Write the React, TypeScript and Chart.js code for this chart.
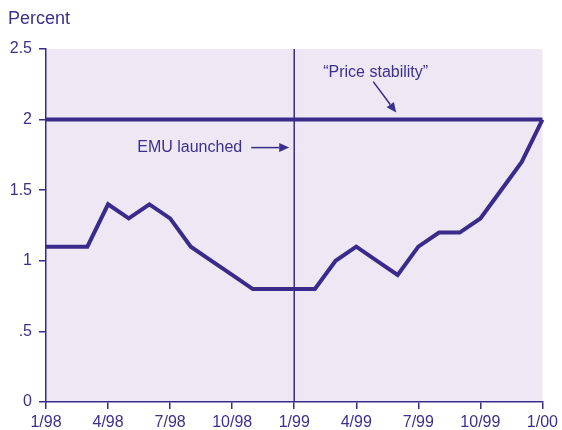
import React, { useEffect, useRef } from "react";
import { Chart, registerables } from "chart.js";

Chart.register(...registerables);

const months = [
  "1/98", "2/98", "3/98", "4/98", "5/98", "6/98", "7/98", "8/98", "9/98", "10/98", "11/98", "12/98",
  "1/99", "2/99", "3/99", "4/99", "5/99", "6/99", "7/99", "8/99", "9/99", "10/99", "11/99", "12/99",
  "1/00",
];
const inflation = [
  1.1, 1.1, 1.1, 1.4, 1.3, 1.4, 1.3, 1.1, 1.0, 0.9, 0.8, 0.8,
  0.8, 0.8, 1.0, 1.1, 1.0, 0.9, 1.1, 1.2, 1.2, 1.3, 1.5, 1.7,
  2.0,
];
const priceStability = 2;
const emuLaunchMonth = "1/99";
const xTickLabels = ["1/98", "4/98", "7/98", "10/98", "1/99", "4/99", "7/99", "10/99", "1/00"];
const yTickValues = [0, 0.5, 1, 1.5, 2, 2.5];
const yTickLabels = ["0", ".5", "1", "1.5", "2", "2.5"];

const PURPLE = "#3a2a8a";
const TEXT = "#3d2f8f";
const BG = "#ede8f4";
const FONT = "'Liberation Sans', Arial, Helvetica, sans-serif";

const annotations = {
  id: "annotations",
  beforeDraw(chart: any) {
    const { ctx, chartArea } = chart;
    ctx.save();
    ctx.fillStyle = BG;
    ctx.fillRect(chartArea.left, chartArea.top, chartArea.right - chartArea.left, chartArea.bottom - chartArea.top);
    ctx.restore();
  },
  afterDatasetsDraw(chart: any) {
    const { ctx, chartArea } = chart;
    const xs = chart.scales.x;
    const ys = chart.scales.y;
    ctx.save();
    // EMU vertical line
    const ex = xs.getPixelForValue(months.indexOf(emuLaunchMonth));
    ctx.strokeStyle = PURPLE;
    ctx.lineWidth = 1.5;
    ctx.beginPath();
    ctx.moveTo(ex, chartArea.top);
    ctx.lineTo(ex, chartArea.bottom);
    ctx.stroke();

    ctx.fillStyle = TEXT;
    ctx.font = `16px ${FONT}`;
    ctx.textBaseline = "middle";

    const arrow = (x1: number, y1: number, x2: number, y2: number) => {
      const ang = Math.atan2(y2 - y1, x2 - x1);
      const hl = 10, hw = 4.5;
      const bx = x2 - hl * Math.cos(ang), by = y2 - hl * Math.sin(ang);
      ctx.lineWidth = 1.5;
      ctx.beginPath();
      ctx.moveTo(x1, y1);
      ctx.lineTo(bx, by);
      ctx.stroke();
      ctx.beginPath();
      ctx.moveTo(x2, y2);
      ctx.lineTo(bx + hw * Math.sin(ang), by - hw * Math.cos(ang));
      ctx.lineTo(bx - hw * Math.sin(ang), by + hw * Math.cos(ang));
      ctx.closePath();
      ctx.fill();
    };

    // EMU launched
    const y148 = ys.getPixelForValue(2) + 28;
    ctx.textAlign = "right";
    ctx.fillText("EMU launched", ex - 52, y148);
    arrow(ex - 43, y148, ex - 5, y148);

    // Price stability
    const py = ys.getPixelForValue(2);
    ctx.textAlign = "left";
    ctx.fillText("\u201cPrice stability\u201d", ex + 29, py - 47);
    arrow(ex + 79, py - 38, ex + 102, py - 7);

    // Percent title
    ctx.textAlign = "left";
    ctx.textBaseline = "alphabetic";
    ctx.font = `18px ${FONT}`;
    ctx.fillText("Percent", 8, 24);
    ctx.restore();
  },
};

export default function App() {
  const ref = useRef<HTMLCanvasElement>(null);
  useEffect(() => {
    document.body.style.margin = "0";
    const chart = new Chart(ref.current!, {
      type: "line",
      data: {
        datasets: [
          {
            data: months.map(() => priceStability).map((v, i) => ({ x: i, y: v })),
            borderColor: PURPLE,
            borderWidth: 4,
            pointRadius: 0,
            tension: 0,
            clip: false,
          },
          {
            data: inflation.map((v, i) => ({ x: i, y: v })),
            borderColor: PURPLE,
            borderWidth: 4,
            pointRadius: 0,
            tension: 0,
            borderJoinStyle: "miter",
            clip: false,
          },
        ],
      },
      options: {
        responsive: false,
        animation: false,
        events: [],
        layout: { padding: { top: 49, right: 16, left: 0, bottom: 0 } },
        plugins: { legend: { display: false }, tooltip: { enabled: false } },
        scales: {
          x: {
            type: "linear",
            min: 0,
            max: months.length - 1,
            afterFit: (s: any) => { s.height = 28; },
            afterBuildTicks: (s: any) => {
              s.ticks = xTickLabels.map((l) => ({ value: months.indexOf(l) }));
            },
            ticks: {
              autoSkip: false,
              maxRotation: 0,
              padding: 4,
              color: TEXT,
              font: { family: FONT, size: 16 },
              callback: (v: any) => months[v as number],
            },
            grid: { drawOnChartArea: false, color: PURPLE, tickLength: 7, lineWidth: 1.5 },
            border: { color: PURPLE, width: 1.5 },
          },
          y: {
            min: 0,
            max: 2.5,
            afterFit: (s: any) => { s.width = 46; },
            afterBuildTicks: (s: any) => {
              s.ticks = yTickValues.map((v) => ({ value: v }));
            },
            ticks: {
              padding: 7,
              color: TEXT,
              font: { family: FONT, size: 16 },
              callback: (v: any) => yTickLabels[yTickValues.indexOf(v as number)],
            },
            grid: { drawOnChartArea: false, color: PURPLE, tickLength: 7, lineWidth: 1.5 },
            border: { color: PURPLE, width: 1.5 },
          },
        },
      },
      plugins: [annotations],
    });
    return () => chart.destroy();
  }, []);
  return (
    <div style={{ width: 562, height: 430 }}>
      <canvas ref={ref} width={562} height={430} />
    </div>
  );
}
